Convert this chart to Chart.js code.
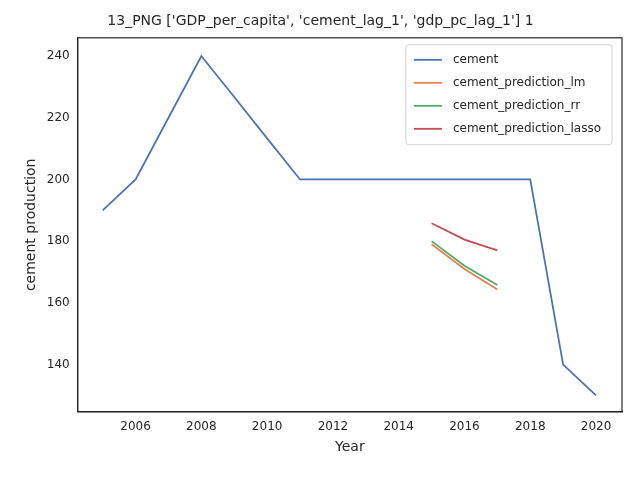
<!DOCTYPE html>
<html><head>
<script src="https://cdn.jsdelivr.net/npm/chart.js@4"></script>
<style>body{margin:0;background:#fff}#w{width:640px;height:480px}</style>
</head><body><div id="w"><canvas id="c"></canvas></div>
<script>
const years = [2005, 2006, 2007, 2008, 2009, 2010, 2011, 2012, 2013, 2014, 2015, 2016, 2017, 2018, 2019, 2020];
const cement = [190, 200, 220, 240, 226.7, 213.3, 200, 200, 200, 200, 200, 200, 200, 200, 140, 130];
const predYears = [2015, 2016, 2017];
const predLm = [179, 171, 164.3];
const predRr = [180, 172, 165.8];
const predLasso = [185.8, 180.5, 177];
const xTicks = [2006, 2008, 2010, 2012, 2014, 2016, 2018, 2020];

const pts = (xs, ys) => xs.map((x, i) => ({ x: x, y: ys[i] }));
const line = (label, d, color) => ({ label, data: d, borderColor: color, backgroundColor: color, borderWidth: 1.8, pointRadius: 0, tension: 0 });

new Chart(document.getElementById('c'), {
  type: 'line',
  data: {
    datasets: [
      line('cement', pts(years, cement), '#4c72b0'),
      line('cement_prediction_lm', pts(predYears, predLm), '#dd8452'),
      line('cement_prediction_rr', pts(predYears, predRr), '#55a868'),
      line('cement_prediction_lasso', pts(predYears, predLasso), '#c44e52')
    ]
  },
  options: {
    responsive: true, maintainAspectRatio: false, animation: false,
    layout: { padding: { top: 3, right: 18, bottom: 22, left: 19 } },
    plugins: {
      title: { display: true, text: "13_PNG ['GDP_per_capita', 'cement_lag_1', 'gdp_pc_lag_1'] 1", color: '#262626', font: { family: 'DejaVu Sans', size: 14, weight: 'normal' }, padding: { top: 10, bottom: 8 } },
      legend: { display: false }
    },
    scales: {
      x: {
        type: 'linear', min: 2004.24, max: 2020.79,
        afterBuildTicks: s => { s.ticks = xTicks.map(v => ({ value: v })); },
        ticks: { color: '#262626', font: { family: 'DejaVu Sans', size: 12 }, callback: v => String(v) },
        grid: { display: false, drawTicks: true, tickLength: 5, color: '#262626' },
        border: { color: '#262626', width: 1.2 },
        title: { display: true, text: 'Year', color: '#262626', font: { family: 'DejaVu Sans', size: 14 }, padding: 2 }
      },
      y: {
        min: 124.7, max: 245.9,
        afterBuildTicks: s => { s.ticks = [140, 160, 180, 200, 220, 240].map(v => ({ value: v })); },
        ticks: { color: '#262626', font: { family: 'DejaVu Sans', size: 12 } },
        grid: { display: false, drawTicks: true, tickLength: 5, color: '#262626' },
        border: { color: '#262626', width: 1.2 },
        title: { display: true, text: 'cement production', color: '#262626', font: { family: 'DejaVu Sans', size: 14 }, padding: 4 }
      }
    }
  },
  plugins: [{
    id: 'frameLegend',
    afterDraw(c) {
      const a = c.chartArea, x = c.ctx;
      x.save(); x.strokeStyle = '#262626'; x.lineWidth = 1.2;
      x.strokeRect(a.left, a.top, a.right - a.left, a.bottom - a.top);
      // legend box in upper right
      const ds = c.data.datasets;
      x.font = '12px "DejaVu Sans"';
      const w = Math.max(...ds.map(d => x.measureText(d.label).width)) + 58;
      const lh = 23, h = ds.length * lh + 8;
      const bx = a.right - 10 - w, by = a.top + 7;
      x.fillStyle = 'rgba(255,255,255,0.8)'; x.strokeStyle = '#d0d0d0'; x.lineWidth = 1;
      x.beginPath(); x.roundRect(bx, by, w, h, 3); x.fill(); x.stroke();
      x.textBaseline = 'middle';
      ds.forEach((d, i) => {
        const yy = by + 15 + i * lh;
        x.strokeStyle = d.borderColor; x.lineWidth = 1.8;
        x.beginPath(); x.moveTo(bx + 8, yy); x.lineTo(bx + 36, yy); x.stroke();
        x.fillStyle = '#262626'; x.fillText(d.label, bx + 47, yy);
      });
      x.restore();
    }
  }]
});
</script></body></html>
